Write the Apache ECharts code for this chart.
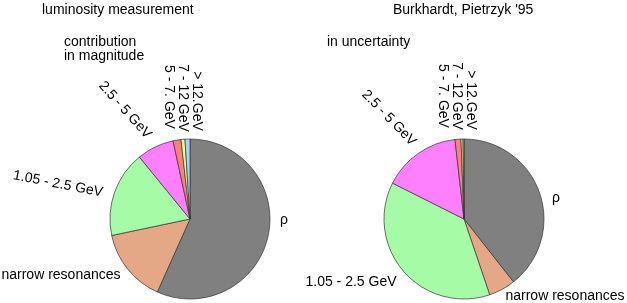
<!DOCTYPE html>
<html>
<head>
<meta charset="utf-8">
<script src="https://cdn.jsdelivr.net/npm/echarts@6/dist/echarts.min.js"></script>
<style>html,body{margin:0;padding:0;background:#fff}#c{width:627px;height:303px}</style>
</head>
<body>
<div id="c"></div>
<script>
var categories = ['ρ', 'narrow resonances', '1.05 - 2.5 GeV', '2.5 - 5 GeV', '5 - 7. GeV', '7 - 12 GeV', '> 12.GeV'];
var magnitude = [56.7, 15.0, 17.4, 7.5, 1.6, 0.8, 1.0];
var uncertainty = [39.4, 5.4, 37.6, 15.8, 1.2, 0.4, 0.2];
var colors = ['#808080', '#e5a886', '#a6fca6', '#ff80ff', '#ff7f7f', '#ffff80', '#a6d2ff'];

// label placements [x, y, rotate] per category, per pie
var leftLabels = [[284, 220, 0], [61, 275, 0], [58, 184, -11], [125, 110, -48], [169, 97, -90], [183, 98, -90], [197, 101, -90]];
var rightLabels = [[556, 198, 0], [565, 296, 0], [351, 282, 0], [389, 118, -46], [443, 96, -90], [457, 96, -90], [471, 100, -90]];

var font = 'Liberation Sans, Arial, sans-serif';

function makeData(vals) {
  return categories.map(function (c, i) {
    return { name: c, value: vals[i], itemStyle: { color: colors[i] } };
  });
}
function layoutFn(pos) {
  return function (p) {
    var q = pos[p.dataIndex];
    return { x: q[0], y: q[1], rotate: q[2], align: 'center', verticalAlign: 'middle' };
  };
}
function pie(center, vals, pos) {
  return {
    type: 'pie',
    center: center,
    radius: 80,
    startAngle: 90,
    clockwise: true,
    avoidLabelOverlap: false,
    animation: false,
    silent: true,
    data: makeData(vals),
    itemStyle: { borderColor: '#333', borderWidth: 0.7 },
    label: { show: true, position: 'outside', color: '#000', fontSize: 14, fontFamily: font, formatter: '{b}' },
    labelLine: { show: false },
    labelLayout: layoutFn(pos),
    emphasis: { disabled: true }
  };
}

var chart = echarts.init(document.getElementById('c'), null, { renderer: 'canvas' });
chart.setOption({
  backgroundColor: '#fff',
  animation: false,
  graphic: [
    { type: 'text', left: 42, top: 3, style: { text: 'luminosity measurement', font: '14px ' + font, fill: '#000' } },
    { type: 'text', left: 393, top: 3, style: { text: "Burkhardt, Pietrzyk '95", font: '14px ' + font, fill: '#000' } },
    { type: 'text', left: 64, top: 35, style: { text: 'contribution\nin magnitude', font: '14px ' + font, fill: '#000', lineHeight: 14 } },
    { type: 'text', left: 327, top: 35, style: { text: 'in uncertainty', font: '14px ' + font, fill: '#000' } }
  ],
  series: [
    pie([190, 219], magnitude, leftLabels),
    pie([464, 219], uncertainty, rightLabels)
  ]
});
</script>
</body>
</html>
